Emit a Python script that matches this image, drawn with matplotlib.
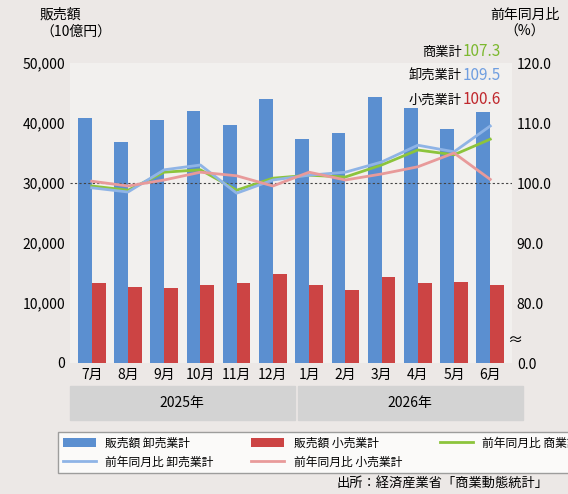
import matplotlib
matplotlib.use("Agg")
import matplotlib.pyplot as plt
import numpy as np
from matplotlib.patches import Rectangle

plt.rcParams['font.family'] = ['Noto Sans CJK JP', 'DejaVu Sans']

months = ["7月","8月","9月","10月","11月","12月","1月","2月","3月","4月","5月","6月"]
wholesale = [40800,36800,40500,42000,39700,44000,37300,38300,44300,42500,39000,41800]
retail = [13300,12700,12500,13000,13300,14800,13000,12200,14300,13300,13500,13000]
yoy_total = [99.5,98.8,101.8,102.2,98.8,100.8,101.3,101.0,103.0,105.5,104.7,107.3]
yoy_whole = [99.2,98.5,102.2,103.0,98.3,100.5,101.3,101.8,103.5,106.3,105.2,109.5]
yoy_retail = [100.3,99.5,100.5,101.8,101.2,99.5,101.8,100.5,101.5,102.7,105.0,100.6]
years = ["2025年","2026年"]

W, H = 568, 494
fig = plt.figure(figsize=(W/100, H/100), dpi=100, facecolor="#ece8e6")
ax = fig.add_axes([70/W, 1-363/H, 442/W, 300/H])
ax.set_facecolor((1,1,1,0.35))
x = np.arange(len(months))
bw = 0.38
ax.bar(x-bw/2, wholesale, bw, color="#5b8fd0", label="販売額 卸売業計")
ax.bar(x+bw/2, retail, bw, color="#cc4444", label="販売額 小売業計")
ax.set_xlim(-0.6, 11.6)
ax.set_ylim(0, 50000)
ax.set_yticks(range(0, 50001, 10000))
ax.set_yticklabels([f"{v:,}" for v in range(0, 50001, 10000)], fontsize=10)
ax.set_xticks(x)
ax.set_xticklabels(months, fontsize=10)
ax.tick_params(length=0)
for s in ax.spines.values():
    s.set_visible(False)

ax2 = ax.twinx()
ax2.set_ylim(70, 120)
ax2.set_yticks([70,80,90,100,110,120])
ax2.set_yticklabels(["0.0","80.0","90.0","100.0","110.0","120.0"], fontsize=10)
ax2.tick_params(length=0)
for s in ax2.spines.values():
    s.set_visible(False)
ax2.axhline(100, color="#444", ls=(0,(2,2)), lw=0.8)
ax2.plot(x, yoy_total, color="#8cc43c", lw=2, label="前年同月比 商業計")
ax2.plot(x, yoy_whole, color="#8fb4e6", lw=2, label="前年同月比 卸売業計")
ax2.plot(x, yoy_retail, color="#e89a9a", lw=2, label="前年同月比 小売業計")
fig.text(515/W, 1-340/H, "≈", fontsize=11, ha="center", va="center")

fig.text(40/W, 1-8/H, "販売額\n（10億円）", fontsize=10, ha="left", va="top", linespacing=1.2)
fig.text(525/W, 1-8/H, "前年同月比\n（%）", fontsize=10, ha="center", va="top", linespacing=1.2)

for i, (lab, val, col) in enumerate([("商業計", "107.3", "#7cb82f"), ("卸売業計", "109.5", "#6f9ee0"), ("小売業計", "100.6", "#c0282d")]):
    yy = 1-(52+i*24)/H
    fig.text(462/W, yy, lab, fontsize=9.5, ha="right", va="center")
    fig.text(463/W, yy, val, fontsize=11, ha="left", va="center", color=col)

fig.patches.append(Rectangle((70/W, 1-420/H), 225/W, 34/H, transform=fig.transFigure, color="#d3d3d3"))
fig.patches.append(Rectangle((298/W, 1-420/H), 225/W, 34/H, transform=fig.transFigure, color="#d3d3d3"))
fig.text(182/W, 1-403/H, years[0], fontsize=10, ha="center", va="center")
fig.text(410/W, 1-403/H, years[1], fontsize=10, ha="center", va="center")

h1, l1 = ax.get_legend_handles_labels()
h2, l2 = ax2.get_legend_handles_labels()
handles = [h1[0], h2[1], h1[1], h2[2], h2[0]]
labels = [l1[0], l2[1], l1[1], l2[2], l2[0]]
leg = fig.legend(handles, labels, ncol=3, loc="upper left", bbox_to_anchor=(52/W, 1-426/H),
                 fontsize=8.5, frameon=True, fancybox=False, edgecolor="#888",
                 handlelength=2.8, columnspacing=3.2, borderpad=0.4, labelspacing=0.5)
leg.get_frame().set_facecolor("white")
fig.text(548/W, 1-490/H, "出所：経済産業省「商業動態統計」", fontsize=9.5, ha="right", va="bottom")

fig.savefig("out.png", dpi=100, facecolor=fig.get_facecolor())
